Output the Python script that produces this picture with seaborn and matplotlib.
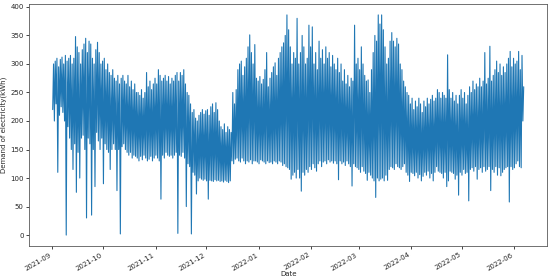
import numpy as np
import pandas as pd
import matplotlib
matplotlib.use("Agg")
import matplotlib.pyplot as plt
import matplotlib.dates as mdates
import seaborn as sns

# Demand: one night low and one day peak per day,
# starting 2021-09-01.
start_date = "2021-09-01"

daily_low = [
    220, 200, 230, 110, 210, 225, 215, 200, 0, 190,
    170, 150, 115, 160, 75, 145, 100, 170, 175, 150,
    30, 170, 160, 35, 150, 85, 180, 165, 150, 170,
    90, 160, 150, 145, 115, 150, 160, 150, 78, 150,
    2, 155, 160, 150, 145, 140, 145, 135, 140, 138,
    135, 130, 138, 132, 140, 135, 130, 133, 138, 130,
    135, 140, 135, 130, 63, 140, 135, 145, 140, 138,
    140, 135, 140, 145, 3, 140, 138, 145, 135, 50,
    125, 120, 2, 110, 105, 72, 95, 100, 98, 96,
    98, 95, 63, 96, 95, 94, 97, 95, 96, 94,
    95, 93, 96, 94, 92, 95, 130, 125, 133, 135,
    130, 128, 135, 130, 125, 130, 128, 132, 125, 130,
    130, 128, 125, 132, 130, 128, 125, 130, 127, 128,
    125, 130, 128, 125, 130, 128, 122, 125, 120, 118,
    115, 98, 105, 110, 100, 115, 100, 77, 110, 105,
    115, 110, 120, 115, 125, 118, 112, 125, 130, 120,
    128, 130, 125, 132, 128, 130, 126, 130, 125, 97,
    130, 125, 128, 122, 130, 125, 120, 86, 125, 120,
    118, 115, 110, 120, 112, 108, 96, 110, 105, 100,
    95, 66, 100, 95, 98, 100, 95, 105, 96, 115,
    120, 118, 115, 125, 120, 118, 115, 120, 125, 110,
    105, 94, 110, 108, 104, 110, 100, 106, 95, 103,
    110, 105, 112, 100, 108, 95, 110, 120, 112, 110,
    108, 100, 110, 85, 95, 112, 110, 108, 98, 105,
    70, 110, 105, 115, 108, 110, 60, 115, 118, 112,
    120, 98, 115, 118, 110, 120, 112, 115, 120, 78,
    115, 110, 120, 105, 118, 104, 110, 115, 118, 120,
    58, 120, 115, 118, 125, 130, 120, 118, 200,
]

daily_peak = [
    300, 305, 310, 295, 308, 312, 300, 315, 305, 310,
    315, 300, 310, 348, 330, 320, 300, 325, 335, 345,
    320, 340, 335, 310, 300, 325, 338, 320, 300, 305,
    310, 290, 300, 285, 280, 290, 275, 270, 280, 265,
    275, 280, 270, 265, 280, 260, 270, 255, 265, 250,
    250, 245, 255, 240, 250, 285, 260, 270, 255, 265,
    275, 265, 290, 280, 270, 275, 280, 270, 278, 265,
    275, 270, 280, 285, 270, 285, 280, 290, 265, 250,
    245, 230, 215, 220, 205, 200, 210, 215, 220, 212,
    218, 220, 210, 225, 230, 215, 232, 220, 200, 190,
    185, 195, 180, 190, 185, 180, 250, 230, 255, 290,
    300, 305, 280, 295, 310, 330, 351, 320, 300, 334,
    275, 270, 278, 265, 273, 290, 320, 260, 275, 285,
    295, 302, 280, 310, 320, 330, 337, 350, 386, 360,
    330, 300, 320, 310, 380, 300, 320, 350, 330, 300,
    310, 368, 330, 365, 300, 320, 290, 340, 310, 325,
    300, 330, 310, 320, 295, 315, 300, 290, 310, 285,
    300, 270, 290, 265, 280, 260, 275, 270, 368, 300,
    310, 290, 330, 300, 280, 270, 272, 250, 290, 320,
    350, 340, 386, 370, 386, 360, 330, 300, 310, 340,
    355, 340, 330, 345, 335, 300, 290, 270, 260, 250,
    245, 230, 240, 220, 235, 225, 240, 230, 215, 235,
    225, 240, 230, 238, 245, 235, 240, 255, 250, 240,
    250, 245, 240, 316, 255, 240, 250, 235, 245, 230,
    245, 255, 240, 250, 230, 245, 260, 250, 270, 255,
    265, 260, 275, 260, 270, 320, 265, 275, 331, 270,
    280, 290, 305, 285, 300, 280, 295, 285, 300, 310,
    322, 295, 310, 300, 305, 322, 290, 315, 260,
]

days = pd.date_range(start_date, periods=len(daily_low), freq="D")
times = []
values = []
for d, lo, hi in zip(days, daily_low, daily_peak):
    times += [d + pd.Timedelta(hours=3), d + pd.Timedelta(hours=15)]
    values += [lo, hi]
df = pd.DataFrame({"Date": times, "Demand": values})

sns.set_style("ticks")
plt.rcParams["font.family"] = ["DejaVu Sans"]

fig, ax = plt.subplots(figsize=(5.5, 2.79), dpi=100)
fig.subplots_adjust(left=0.053, right=0.995, top=0.986, bottom=0.118)

sns.lineplot(data=df, x="Date", y="Demand", estimator=None,
             color="#1f77b4", linewidth=0.8, ax=ax)

ax.xaxis.set_major_locator(mdates.MonthLocator())
ax.xaxis.set_major_formatter(mdates.DateFormatter("%Y-%m"))
for lab in ax.get_xticklabels():
    lab.set_rotation(30)
    lab.set_ha("right")

ax.set_yticks(np.arange(0, 401, 50))
ax.tick_params(labelsize=5, length=2.5, width=0.6, pad=1.5)
for s in ax.spines.values():
    s.set_linewidth(0.6)
    s.set_color("0.35")

ax.set_xlabel("Date", fontsize=5, labelpad=0)
ax.set_ylabel("Demand of electricity(kWh)", fontsize=5, labelpad=2)

fig.savefig("out.png", dpi=100)
